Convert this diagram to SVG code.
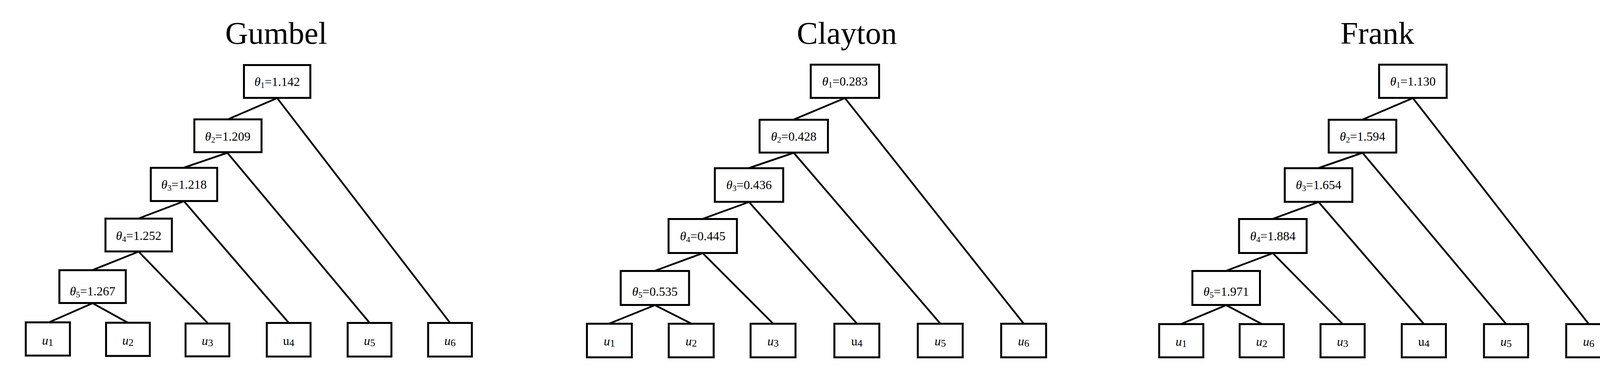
<svg xmlns="http://www.w3.org/2000/svg" width="4151" height="993" viewBox="0 0 4151 993">
<style>
.bg{fill:#ffffff}
.box{fill:#ffffff;stroke:#000000;stroke-width:5}
.edge{stroke:#000000;stroke-width:4.5;fill:none}
.title{font-family:"Liberation Serif","Times New Roman",serif;font-size:81px;fill:#000;text-anchor:middle}
.lbl{font-family:"Liberation Serif","Times New Roman",serif;font-size:32px;fill:#000;text-anchor:middle}
.ul{font-family:"Liberation Serif","Times New Roman",serif;font-size:32px;fill:#000;text-anchor:middle}
.it{font-style:italic}
.sub{font-size:21px}
.usub{font-size:26px}
</style>
<rect class="bg" x="0" y="0" width="4151" height="993"/>
<g id="titles">
<text class="title" x="707" y="112">Gumbel</text>
<text class="title" x="2168" y="112">Clayton</text>
<text class="title" x="3526" y="112">Frank</text>
</g>
<g id="connectors">
<!-- Gumbel -->
<line class="edge" x1="709.5" y1="251" x2="582" y2="306"/>
<line class="edge" x1="709.5" y1="251" x2="1152" y2="826"/>
<line class="edge" x1="582" y1="391" x2="471" y2="429"/>
<line class="edge" x1="582" y1="391" x2="946" y2="826"/>
<line class="edge" x1="471" y1="515" x2="355" y2="559"/>
<line class="edge" x1="471" y1="515" x2="739" y2="826"/>
<line class="edge" x1="355" y1="644" x2="237" y2="691"/>
<line class="edge" x1="355" y1="644" x2="531" y2="826"/>
<line class="edge" x1="237" y1="776" x2="123" y2="826"/>
<line class="edge" x1="237" y1="776" x2="327.5" y2="826"/>
<!-- Clayton -->
<line class="edge" x1="2163" y1="251" x2="2032" y2="306"/>
<line class="edge" x1="2163" y1="251" x2="2620.5" y2="828"/>
<line class="edge" x1="2032" y1="391" x2="1917.5" y2="430"/>
<line class="edge" x1="2032" y1="391" x2="2407" y2="828"/>
<line class="edge" x1="1917.5" y1="517" x2="1799" y2="560"/>
<line class="edge" x1="1917.5" y1="517" x2="2193.5" y2="828"/>
<line class="edge" x1="1799" y1="648" x2="1676.5" y2="693"/>
<line class="edge" x1="1799" y1="648" x2="1979" y2="828"/>
<line class="edge" x1="1676.5" y1="781" x2="1560" y2="828"/>
<line class="edge" x1="1676.5" y1="781" x2="1769.5" y2="828"/>
<!-- Frank -->
<line class="edge" x1="3617" y1="251" x2="3488" y2="306"/>
<line class="edge" x1="3617" y1="251" x2="4067" y2="829"/>
<line class="edge" x1="3488" y1="391" x2="3375.5" y2="430"/>
<line class="edge" x1="3488" y1="391" x2="3855.5" y2="829"/>
<line class="edge" x1="3375.5" y1="517" x2="3258.5" y2="560"/>
<line class="edge" x1="3375.5" y1="517" x2="3645" y2="829"/>
<line class="edge" x1="3258.5" y1="648" x2="3139" y2="693"/>
<line class="edge" x1="3258.5" y1="648" x2="3437" y2="829"/>
<line class="edge" x1="3139" y1="781" x2="3024" y2="829"/>
<line class="edge" x1="3139" y1="781" x2="3230" y2="829"/>
</g>
<!-- Gumbel nodes -->
<g id="g-theta1"><rect class="box" x="624.5" y="166.5" width="170" height="84"/><text class="lbl" x="709.5" y="220"><tspan class="it">θ</tspan><tspan class="sub" dy="5">1</tspan><tspan dy="-5">=1.142</tspan></text></g>
<g id="g-theta2"><rect class="box" x="497.5" y="305.5" width="172" height="84"/><text class="lbl" x="583" y="360"><tspan class="it">θ</tspan><tspan class="sub" dy="5">2</tspan><tspan dy="-5">=1.209</tspan></text></g>
<g id="g-theta3"><rect class="box" x="386" y="429.5" width="170" height="85"/><text class="lbl" x="471" y="483"><tspan class="it">θ</tspan><tspan class="sub" dy="5">3</tspan><tspan dy="-5">=1.218</tspan></text></g>
<g id="g-theta4"><rect class="box" x="270" y="559.5" width="170" height="84"/><text class="lbl" x="355" y="614"><tspan class="it">θ</tspan><tspan class="sub" dy="5">4</tspan><tspan dy="-5">=1.252</tspan></text></g>
<g id="g-theta5"><rect class="box" x="152" y="691.5" width="170" height="84"/><text class="lbl" x="237" y="756"><tspan class="it">θ</tspan><tspan class="sub" dy="5">5</tspan><tspan dy="-5">=1.267</tspan></text></g>
<g id="g-u1"><rect class="box" x="66" y="825" width="113" height="85"/><text class="ul" x="122" y="882"><tspan class="it">u</tspan><tspan class="usub" dy="3">1</tspan></text></g>
<g id="g-u2"><rect class="box" x="271.5" y="826" width="112" height="85"/><text class="ul" x="327.5" y="882"><tspan class="it">u</tspan><tspan class="usub" dy="3">2</tspan></text></g>
<g id="g-u3"><rect class="box" x="475" y="828" width="112" height="84"/><text class="ul" x="531" y="883"><tspan class="it">u</tspan><tspan class="usub" dy="3">3</tspan></text></g>
<g id="g-u4"><rect class="box" x="683" y="826.5" width="112" height="86"/><text class="ul" x="739" y="883"><tspan>u</tspan><tspan class="usub" dy="3">4</tspan></text></g>
<g id="g-u5"><rect class="box" x="890" y="826.5" width="112" height="86"/><text class="ul" x="946" y="883"><tspan class="it">u</tspan><tspan class="usub" dy="3">5</tspan></text></g>
<g id="g-u6"><rect class="box" x="1096" y="826.5" width="112" height="86"/><text class="ul" x="1152" y="883"><tspan class="it">u</tspan><tspan class="usub" dy="3">6</tspan></text></g>
<!-- Clayton nodes -->
<g id="c-theta1"><rect class="box" x="2075.5" y="165.5" width="175" height="85"/><text class="lbl" x="2163" y="219"><tspan class="it">θ</tspan><tspan class="sub" dy="5">1</tspan><tspan dy="-5">=0.283</tspan></text></g>
<g id="c-theta2"><rect class="box" x="1944.5" y="306.5" width="175" height="84"/><text class="lbl" x="2032" y="360"><tspan class="it">θ</tspan><tspan class="sub" dy="5">2</tspan><tspan dy="-5">=0.428</tspan></text></g>
<g id="c-theta3"><rect class="box" x="1830" y="430.5" width="175" height="86"/><text class="lbl" x="1917.5" y="484"><tspan class="it">θ</tspan><tspan class="sub" dy="5">3</tspan><tspan dy="-5">=0.436</tspan></text></g>
<g id="c-theta4"><rect class="box" x="1711.5" y="560.5" width="175" height="87"/><text class="lbl" x="1799" y="615"><tspan class="it">θ</tspan><tspan class="sub" dy="5">4</tspan><tspan dy="-5">=0.445</tspan></text></g>
<g id="c-theta5"><rect class="box" x="1589" y="693.5" width="175" height="87"/><text class="lbl" x="1676.5" y="757"><tspan class="it">θ</tspan><tspan class="sub" dy="5">5</tspan><tspan dy="-5">=0.535</tspan></text></g>
<g id="c-u1"><rect class="box" x="1502.5" y="828.5" width="115" height="86"/><text class="ul" x="1560" y="884"><tspan class="it">u</tspan><tspan class="usub" dy="3">1</tspan></text></g>
<g id="c-u2"><rect class="box" x="1712" y="828.5" width="115" height="86"/><text class="ul" x="1769.5" y="884"><tspan class="it">u</tspan><tspan class="usub" dy="3">2</tspan></text></g>
<g id="c-u3"><rect class="box" x="1921.5" y="828.5" width="115" height="86"/><text class="ul" x="1979" y="884"><tspan class="it">u</tspan><tspan class="usub" dy="3">3</tspan></text></g>
<g id="c-u4"><rect class="box" x="2136" y="828.5" width="115" height="86"/><text class="ul" x="2193.5" y="884"><tspan>u</tspan><tspan class="usub" dy="3">4</tspan></text></g>
<g id="c-u5"><rect class="box" x="2349.5" y="828.5" width="115" height="86"/><text class="ul" x="2407" y="884"><tspan class="it">u</tspan><tspan class="usub" dy="3">5</tspan></text></g>
<g id="c-u6"><rect class="box" x="2563" y="828.5" width="115" height="86"/><text class="ul" x="2620.5" y="884"><tspan class="it">u</tspan><tspan class="usub" dy="3">6</tspan></text></g>
<!-- Frank nodes -->
<g id="f-theta1"><rect class="box" x="3530.5" y="165.5" width="173" height="85"/><text class="lbl" x="3617" y="219"><tspan class="it">θ</tspan><tspan class="sub" dy="5">1</tspan><tspan dy="-5">=1.130</tspan></text></g>
<g id="f-theta2"><rect class="box" x="3401.5" y="306.5" width="173" height="84"/><text class="lbl" x="3488" y="360"><tspan class="it">θ</tspan><tspan class="sub" dy="5">2</tspan><tspan dy="-5">=1.594</tspan></text></g>
<g id="f-theta3"><rect class="box" x="3289" y="430.5" width="173" height="86"/><text class="lbl" x="3375.5" y="484"><tspan class="it">θ</tspan><tspan class="sub" dy="5">3</tspan><tspan dy="-5">=1.654</tspan></text></g>
<g id="f-theta4"><rect class="box" x="3172" y="560.5" width="173" height="87"/><text class="lbl" x="3258.5" y="615"><tspan class="it">θ</tspan><tspan class="sub" dy="5">4</tspan><tspan dy="-5">=1.884</tspan></text></g>
<g id="f-theta5"><rect class="box" x="3052.5" y="693.5" width="173" height="87"/><text class="lbl" x="3139" y="757"><tspan class="it">θ</tspan><tspan class="sub" dy="5">5</tspan><tspan dy="-5">=1.971</tspan></text></g>
<g id="f-u1"><rect class="box" x="2967.5" y="829.5" width="113" height="85"/><text class="ul" x="3024" y="885"><tspan class="it">u</tspan><tspan class="usub" dy="3">1</tspan></text></g>
<g id="f-u2"><rect class="box" x="3173.5" y="829.5" width="113" height="85"/><text class="ul" x="3230" y="885"><tspan class="it">u</tspan><tspan class="usub" dy="3">2</tspan></text></g>
<g id="f-u3"><rect class="box" x="3380.5" y="829.5" width="113" height="85"/><text class="ul" x="3437" y="885"><tspan class="it">u</tspan><tspan class="usub" dy="3">3</tspan></text></g>
<g id="f-u4"><rect class="box" x="3588.5" y="829.5" width="113" height="85"/><text class="ul" x="3645" y="885"><tspan>u</tspan><tspan class="usub" dy="3">4</tspan></text></g>
<g id="f-u5"><rect class="box" x="3799" y="829.5" width="113" height="85"/><text class="ul" x="3855.5" y="885"><tspan class="it">u</tspan><tspan class="usub" dy="3">5</tspan></text></g>
<g id="f-u6"><rect class="box" x="4009.5" y="829.5" width="115" height="85"/><text class="ul" x="4067" y="885"><tspan class="it">u</tspan><tspan class="usub" dy="3">6</tspan></text></g>
</svg>
